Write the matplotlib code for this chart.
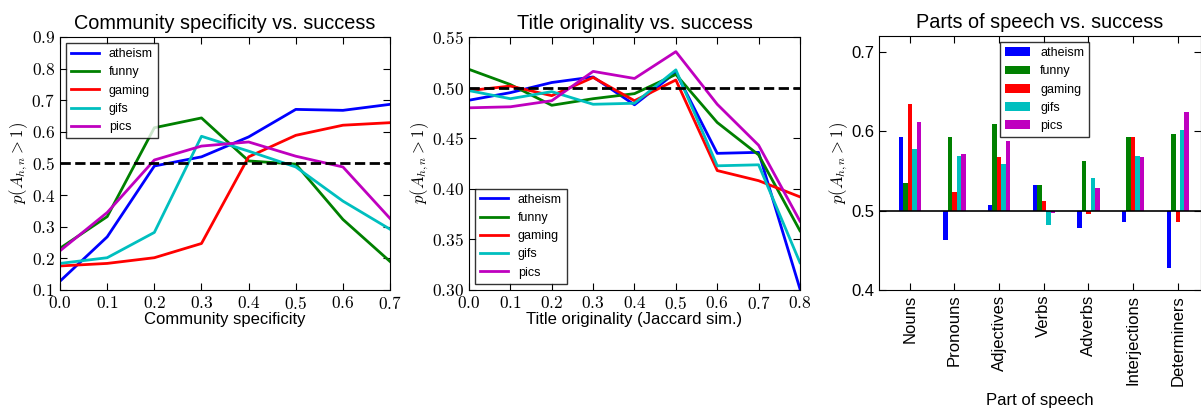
import numpy as np
import matplotlib
matplotlib.use('Agg')
import matplotlib.pyplot as plt
from matplotlib.ticker import FuncFormatter

plt.rcParams['font.family'] = ['Liberation Sans', 'DejaVu Sans']
plt.rcParams['mathtext.fontset'] = 'cm'

subreddits = ['atheism', 'funny', 'gaming', 'gifs', 'pics']
colors = ['b', 'g', 'r', 'c', 'm']

# community specificity vs success
spec_x = [0.0, 0.1, 0.2, 0.3, 0.4, 0.5, 0.6, 0.7]
spec_atheism = [0.128, 0.268, 0.492, 0.521, 0.584, 0.671, 0.668, 0.687]
spec_funny = [0.232, 0.332, 0.613, 0.644, 0.508, 0.498, 0.323, 0.190]
spec_gaming = [0.176, 0.184, 0.202, 0.247, 0.521, 0.589, 0.621, 0.629]
spec_gifs = [0.184, 0.202, 0.282, 0.586, 0.539, 0.489, 0.381, 0.292]
spec_pics = [0.224, 0.345, 0.511, 0.555, 0.568, 0.523, 0.489, 0.326]

# title originality vs success
orig_x = [0.0, 0.1, 0.2, 0.3, 0.4, 0.5, 0.6, 0.7, 0.8]
orig_atheism = [0.4875, 0.495, 0.505, 0.5105, 0.483, 0.515, 0.435, 0.436, 0.301]
orig_funny = [0.518, 0.503, 0.4825, 0.489, 0.494, 0.513, 0.4655, 0.4335, 0.3585]
orig_gaming = [0.497, 0.5015, 0.492, 0.510, 0.487, 0.5075, 0.418, 0.408, 0.392]
orig_gifs = [0.497, 0.489, 0.496, 0.4835, 0.4845, 0.5175, 0.4227, 0.4237, 0.327]
orig_pics = [0.480, 0.481, 0.487, 0.516, 0.509, 0.5355, 0.4835, 0.443, 0.368]

# parts of speech vs success
pos_labels = ['Nouns', 'Pronouns', 'Adjectives', 'Verbs', 'Adverbs', 'Interjections', 'Determiners']
pos_atheism = [0.593, 0.463, 0.507, 0.532, 0.478, 0.486, 0.428]
pos_funny = [0.535, 0.593, 0.609, 0.532, 0.563, 0.593, 0.597]
pos_gaming = [0.634, 0.524, 0.568, 0.512, 0.496, 0.593, 0.486]
pos_gifs = [0.578, 0.569, 0.559, 0.482, 0.541, 0.569, 0.602]
pos_pics = [0.612, 0.571, 0.588, 0.497, 0.529, 0.568, 0.624]

ylab = r'$p(A_{h,n} > 1)$'


def style_ax(ax):
    ax.tick_params(direction='in', top=True, right=True, length=5, labelsize=12.5)


fig = plt.figure(figsize=(12.01, 4.09), dpi=100)

# panel 1
ax1 = fig.add_axes([0.05, 0.291, 0.2748, 0.6186])
for vals, c, name in zip([spec_atheism, spec_funny, spec_gaming, spec_gifs, spec_pics], colors, subreddits):
    ax1.plot(spec_x, vals, color=c, lw=2, label=name)
ax1.axhline(0.5, color='k', ls='--', lw=2)
ax1.set_xlim(0, 0.7)
ax1.set_ylim(0.1, 0.9)
ax1.set_xticks(np.arange(0, 0.75, 0.1))
ax1.set_yticks(np.arange(0.1, 0.95, 0.1))
ax1.xaxis.set_major_formatter(FuncFormatter(lambda v, p: r'$%.1f$' % v))
ax1.yaxis.set_major_formatter(FuncFormatter(lambda v, p: r'$%.1f$' % v))
style_ax(ax1)
ax1.set_title('Community specificity vs. success', fontsize=14.3)
ax1.set_xlabel('Community specificity', fontsize=12, labelpad=0)
ax1.set_ylabel(ylab, fontsize=12, labelpad=1)
ax1.legend(loc='upper left', fontsize=9, handlelength=2.2, fancybox=False, edgecolor='k')

# panel 2
ax2 = fig.add_axes([0.3905, 0.291, 0.2756, 0.6186])
for vals, c, name in zip([orig_atheism, orig_funny, orig_gaming, orig_gifs, orig_pics], colors, subreddits):
    ax2.plot(orig_x, vals, color=c, lw=2, label=name)
ax2.axhline(0.5, color='k', ls='--', lw=2)
ax2.set_xlim(0, 0.8)
ax2.set_ylim(0.30, 0.55)
ax2.set_xticks(np.arange(0, 0.85, 0.1))
ax2.set_yticks(np.arange(0.30, 0.56, 0.05))
ax2.xaxis.set_major_formatter(FuncFormatter(lambda v, p: r'$%.1f$' % v))
ax2.yaxis.set_major_formatter(FuncFormatter(lambda v, p: r'$%.2f$' % v))
style_ax(ax2)
ax2.set_title('Title originality vs. success', fontsize=14.3)
ax2.set_xlabel('Title originality (Jaccard sim.)', fontsize=12, labelpad=0)
ax2.set_ylabel(ylab, fontsize=12, labelpad=1)
ax2.legend(loc='lower left', fontsize=9, handlelength=2.2, fancybox=False, edgecolor='k')

# panel 3
ax3 = fig.add_axes([0.7319, 0.291, 0.2681, 0.621])
x = np.arange(len(pos_labels))
w = 0.1
for i, (vals, c, name) in enumerate(zip([pos_atheism, pos_funny, pos_gaming, pos_gifs, pos_pics], colors, subreddits)):
    heights = np.array(vals) - 0.5
    ax3.bar(x + (i - 2) * w, heights, w, bottom=0.5, color=c, edgecolor='none', label=name)
ax3.axhline(0.5, color='k', lw=1.2)
ax3.set_xlim(-0.69, 6.52)
ax3.set_ylim(0.4, 0.72)
ax3.set_yticks([0.4, 0.5, 0.6, 0.7])
ax3.set_xticks(x)
ax3.set_xticklabels(pos_labels, rotation=90, fontsize=12)
style_ax(ax3)
ax3.tick_params(axis='x', labelsize=12)
ax3.tick_params(axis='y', labelsize=12)
ax3.set_title('Parts of speech vs. success', fontsize=14.3)
ax3.set_xlabel('Part of speech', fontsize=12, labelpad=5)
ax3.set_ylabel(ylab, fontsize=12, labelpad=1)
ax3.legend(loc='upper center', bbox_to_anchor=(0.514, 1.0), fontsize=9, handlelength=2,
           fancybox=False, edgecolor='k')

fig.savefig('out.png', dpi=100)
